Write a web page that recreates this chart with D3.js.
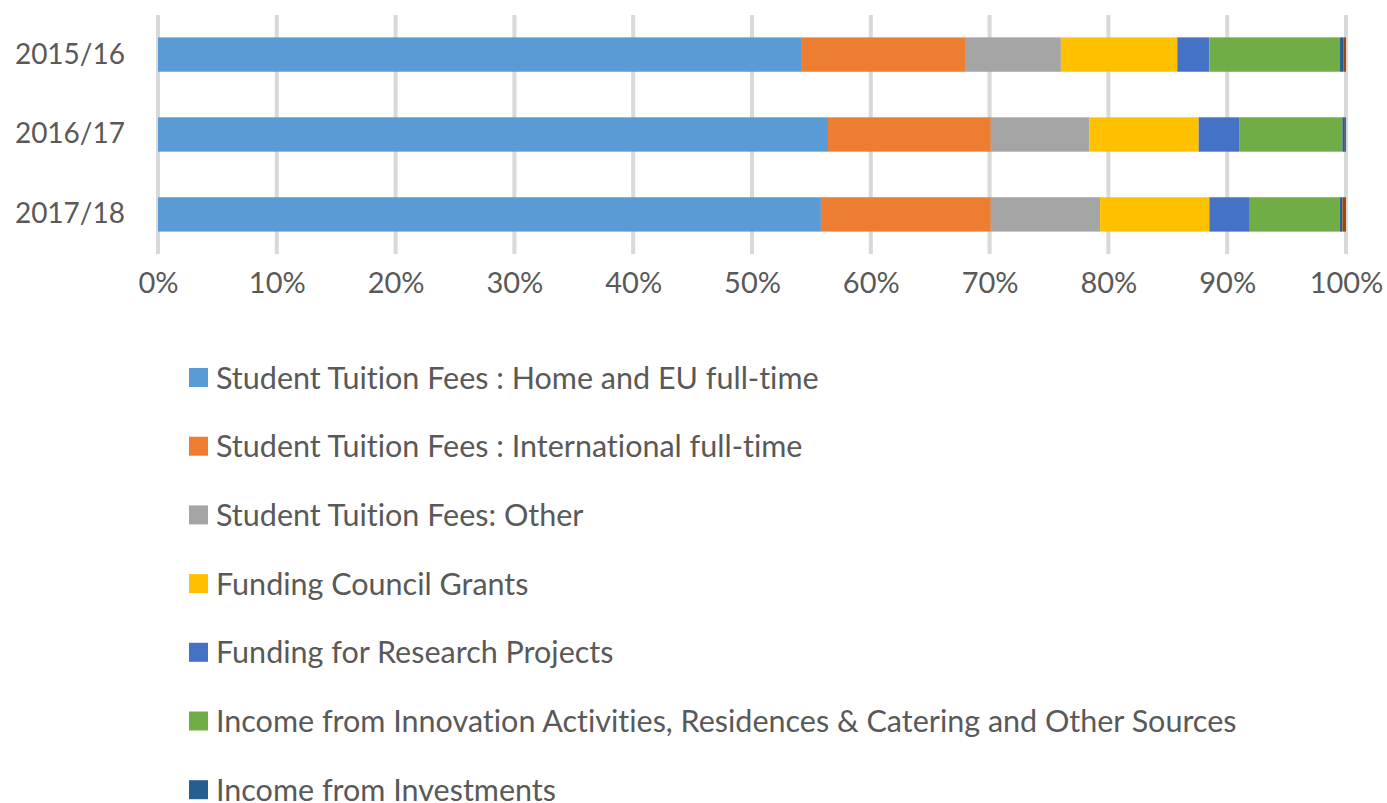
<!DOCTYPE html>
<html>
<head>
<meta charset="utf-8">
<script src="https://cdn.jsdelivr.net/npm/d3@7"></script>
<style>
  html, body { margin: 0; padding: 0; background: #ffffff; }
  svg { display: block; }
  text { font-family: Lato, "Open Sans", sans-serif; fill: #595959; font-variant-ligatures: none; }
</style>
</head>
<body>
<svg id="chart" width="1387" height="803"></svg>
<script>
// Income sources by academic year, as shares of total income (%)
const years = ["2015/16", "2016/17", "2017/18"];
const seriesNames = [
  "Student Tuition Fees : Home and EU full-time",
  "Student Tuition Fees : International full-time",
  "Student Tuition Fees: Other",
  "Funding Council Grants",
  "Funding for Research Projects",
  "Income from Innovation Activities, Residences & Catering and Other Sources",
  "Income from Investments",
  "Other Income"
];
const homeEU        = [54.2, 56.4, 55.8];
const international = [13.8, 13.7, 14.3];
const feesOther     = [8.0, 8.3, 9.2];
const councilGrants = [9.8, 9.2, 9.2];
const research      = [2.7, 3.4, 3.4];
const innovation    = [11.0, 8.7, 7.6];
const investments   = [0.3, 0.2, 0.2];
const otherIncome   = [0.2, 0.1, 0.3];
const tickValues = [0, 10, 20, 30, 40, 50, 60, 70, 80, 90, 100];
const colors = ["#5B9BD5", "#ED7D31", "#A5A5A5", "#FFC000", "#4472C4", "#70AD47", "#255E91", "#9E480E"];

const seriesValues = [homeEU, international, feesOther, councilGrants, research, innovation, investments, otherIncome];

// one row per year, keyed by series index, normalised to 100%
const rows = years.map((y, i) => {
  const row = { year: y };
  const total = d3.sum(seriesValues, s => s[i]);
  seriesValues.forEach((s, k) => { row["s" + k] = s[i] / total * 100; });
  return row;
});
const keys = seriesValues.map((_, k) => "s" + k);
const stacked = d3.stack().keys(keys)(rows);

const svg = d3.select("#chart");

const x = d3.scaleLinear().domain([0, 100]).range([158, 1346]);
const y = d3.scaleBand().domain(years).range([15, 254]).paddingInner(0.57).paddingOuter(0.28);

// vertical gridlines
svg.append("g")
  .selectAll("line")
  .data(tickValues)
  .join("line")
  .attr("x1", d => x(d)).attr("x2", d => x(d))
  .attr("y1", 15).attr("y2", 254)
  .attr("stroke", "#d9d9d9")
  .attr("stroke-width", 4);

// stacked segments
svg.append("g")
  .selectAll("g")
  .data(stacked)
  .join("g")
  .attr("fill", (d, i) => colors[i])
  .selectAll("rect")
  .data(d => d)
  .join("rect")
  .attr("x", d => x(d[0]))
  .attr("width", d => Math.max(0, x(d[1]) - x(d[0])))
  .attr("y", d => y(d.data.year))
  .attr("height", y.bandwidth());

// x axis tick labels
const xAxis = svg.append("g")
  .attr("transform", "translate(0,254)")
  .call(d3.axisBottom(x).tickValues(tickValues).tickFormat(d => d + "%").tickSize(0).tickPadding(18));
xAxis.select(".domain").remove();
xAxis.selectAll("text").style("font-size", "29px").attr("fill", "#595959")
  .style("font-family", "Lato, 'Open Sans', sans-serif");

// y axis category labels
const yAxis = svg.append("g")
  .attr("transform", "translate(125,0)")
  .call(d3.axisLeft(y).tickSize(0).tickPadding(0));
yAxis.select(".domain").remove();
yAxis.selectAll("text").style("font-size", "28px").attr("fill", "#595959")
  .style("font-family", "Lato, 'Open Sans', sans-serif");

// legend (entries that fit inside the frame)
const legendRowGap = 68.7;
const legendTop = 378;
const visibleNames = seriesNames.filter((d, i) => legendTop + i * legendRowGap < 803);
const legendItems = svg.append("g").selectAll("g")
  .data(visibleNames)
  .join("g")
  .attr("transform", (d, i) => `translate(189,${legendTop + i * legendRowGap})`);
legendItems.append("rect")
  .attr("x", 0).attr("y", -10).attr("width", 19).attr("height", 19)
  .attr("fill", (d, i) => colors[i]);
legendItems.append("text")
  .attr("x", 27).attr("y", 0)
  .attr("dy", "0.35em")
  .style("font-size", "30.5px")
  .text(d => d);
</script>
</body>
</html>
